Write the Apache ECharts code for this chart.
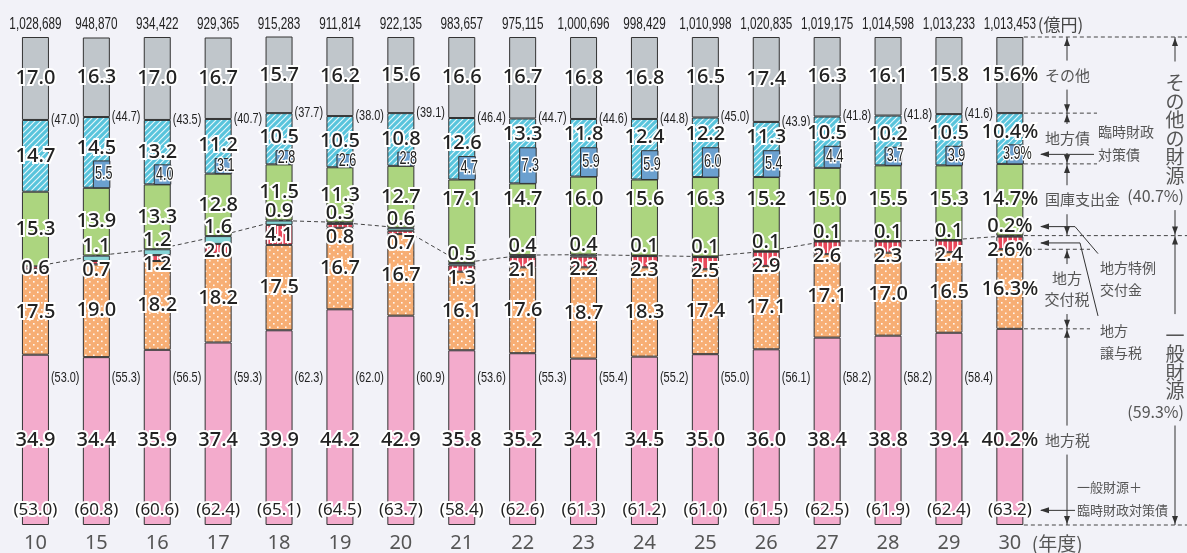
<!DOCTYPE html>
<html lang="ja">
<head>
<meta charset="utf-8">
<title>地方歳入の構成比の推移</title>
<script src="https://cdn.jsdelivr.net/npm/echarts/dist/echarts.min.js"></script>
<style>
html,body{margin:0;padding:0;background:#f2f2f8;}
#chart{width:1187px;height:553px;}
</style>
</head>
<body>
<div id="chart"></div>
<script>
// 年度
const years = ['10','15','16','17','18','19','20','21','22','23','24','25','26','27','28','29','30'];
// 歳入総額（億円）
const totals = ['1,028,689','948,870','934,422','929,365','915,283','911,814','922,135','983,657','975,115','1,000,696','998,429','1,010,998','1,020,835','1,019,175','1,014,598','1,013,233','1,013,453'];
// 構成比（%）
const localTax      = [34.9,34.4,35.9,37.4,39.9,44.2,42.9,35.8,35.2,34.1,34.5,35.0,36.0,38.4,38.8,39.4,40.2];
const allocationTax = [17.5,19.0,18.2,18.2,17.5,16.7,16.7,16.1,17.6,18.7,18.3,17.4,17.1,17.1,17.0,16.5,16.3];
const transferTax   = [0.6,0.7,1.2,2.0,4.1,0.8,0.7,1.3,2.1,2.2,2.3,2.5,2.9,2.6,2.3,2.4,2.6];
const specialGrant  = [null,1.1,1.2,1.6,0.9,0.3,0.6,0.5,0.4,0.4,0.1,0.1,0.1,0.1,0.1,0.1,0.2];
const treasury      = [15.3,13.9,13.3,12.8,11.5,11.3,12.7,17.1,14.7,16.0,15.6,16.3,15.2,15.0,15.5,15.3,14.7];
const localBonds    = [14.7,14.5,13.2,11.2,10.5,10.5,10.8,12.6,13.3,11.8,12.4,12.2,11.3,10.5,10.2,10.5,10.4];
const deficitBonds  = [null,5.5,4.0,3.1,2.8,2.6,2.8,4.7,7.3,5.9,5.9,6.0,5.4,4.4,3.7,3.9,3.9];
const others        = [17.0,16.3,17.0,16.7,15.7,16.2,15.6,16.6,16.7,16.8,16.8,16.5,17.4,16.3,16.1,15.8,15.6];
// 一般財源・その他の財源・一般財源＋臨時財政対策債（%）
const generalShare     = [53.0,55.3,56.5,59.3,62.3,62.0,60.9,53.6,55.3,55.4,55.2,55.0,56.1,58.2,58.2,58.4,59.3];
const otherShare       = [47.0,44.7,43.5,40.7,37.7,38.0,39.1,46.4,44.7,44.6,44.8,45.0,43.9,41.8,41.8,41.6,40.7];
const generalPlusBonds = [53.0,60.8,60.6,62.4,65.1,64.5,63.7,58.4,62.6,61.3,61.2,61.0,61.5,62.5,61.9,62.4,63.2];

const last = years.length - 1;
const F_NUM = '"Noto Sans", "DejaVu Sans", sans-serif';
const F_CONDENSED = '"Liberation Sans", Arial, sans-serif';
const F_JP = '"Noto Sans CJK JP", "Noto Sans", sans-serif';
const INK = '#222';
const EDGE = '#333';

// 塗りパターン
function makePattern(w, h, draw) {
  const c = document.createElement('canvas');
  c.width = w; c.height = h;
  draw(c.getContext('2d'), w, h);
  return { image: c, repeat: 'repeat' };
}
const hatchCyan = makePattern(6, 6, (g, w, h) => {
  g.fillStyle = '#58c4dc'; g.fillRect(0, 0, w, h);
  g.strokeStyle = 'rgba(255,255,255,0.85)'; g.lineWidth = 1.2;
  g.beginPath();
  g.moveTo(-1, h + 1); g.lineTo(w + 1, -1);
  g.moveTo(-1, 1); g.lineTo(1, -1);
  g.moveTo(w - 1, h + 1); g.lineTo(w + 1, h - 1);
  g.stroke();
});
const dotOrange = makePattern(8, 7, (g, w, h) => {
  g.fillStyle = '#f7ae74'; g.fillRect(0, 0, w, h);
  g.fillStyle = 'rgba(255,255,255,0.9)';
  g.fillRect(1, 1, 1.6, 1.6);
  g.fillRect(5, 4.5, 1.6, 1.6);
});
const stripeRed = makePattern(5, 4, (g, w, h) => {
  g.fillStyle = '#e8475a'; g.fillRect(0, 0, w, h);
  g.fillStyle = 'rgba(255,255,255,0.95)'; g.fillRect(2, 0, 1.4, h);
});

const segments = [
  { name: '地方税', data: localTax, color: '#f3abcc' },
  { name: '地方交付税', data: allocationTax, color: dotOrange },
  { name: '地方譲与税', data: transferTax, color: stripeRed },
  { name: '地方特例交付金', data: specialGrant, color: '#86d4d6' },
  { name: '国庫支出金', data: treasury, color: '#acd57f' },
  { name: '地方債', data: localBonds, color: hatchCyan },
  { name: 'その他', data: others, color: '#c0c6cb' }
];

function cumAt(i) {
  const c = [0];
  segments.forEach(s => c.push(c[c.length - 1] + (s.data[i] || 0)));
  return c;
}

const BIG = { fontSize: 20, fontFamily: F_NUM, fontWeight: 500, fill: INK, stroke: '#fff', lineWidth: 4, align: 'center', verticalAlign: 'middle' };
const MID = { fontSize: 17, fontFamily: F_NUM, fontWeight: 'normal', fill: INK, stroke: '#fff', lineWidth: 4, align: 'center', verticalAlign: 'middle' };
const BOX = { fontSize: 18, fontFamily: F_CONDENSED, fontWeight: 'normal', fill: INK, stroke: '#fff', lineWidth: 3, align: 'center', verticalAlign: 'middle' };
const SIDE = { fontSize: 14, fontFamily: F_CONDENSED, fontWeight: 'normal', fill: '#222', align: 'left', verticalAlign: 'middle' };
const TOTAL = { fontSize: 17, fontFamily: F_CONDENSED, fontWeight: 'normal', fill: '#222', align: 'center', verticalAlign: 'middle' };

// テキスト要素（sx < 1 で横方向に詰める）
function text(x, y, s, st, sx) {
  return { type: 'text', x: x, y: y, scaleX: sx || 1,
    style: Object.assign({}, st, { x: 0, y: 0, text: s }) };
}

const idx = years.map((_, i) => [i, 0]);

const barSeries = segments.map(s => ({
  name: s.name,
  type: 'bar',
  stack: 'total',
  barWidth: 27,
  z: 2,
  data: s.data.map(v => (v == null ? '-' : v)),
  itemStyle: { color: s.color, borderColor: EDGE, borderWidth: 1 },
  emphasis: { disabled: true }
}));

// 一般財源の上端を結ぶ破線
const guideSeries = {
  type: 'custom', z: 1, silent: true, data: idx,
  renderItem(params, api) {
    const i = params.dataIndex;
    const g = cumAt(i)[4];
    const p1 = api.coord([i, g]);
    let p2;
    if (i < last) p2 = api.coord([i + 1, cumAt(i + 1)[4]]);
    else p2 = [api.getWidth(), p1[1]];
    return { type: 'line', shape: { x1: p1[0], y1: p1[1], x2: p2[0], y2: p2[1] },
      style: { stroke: '#444', lineWidth: 1, lineDash: [4, 3] } };
  }
};

// 臨時財政対策債（地方債の内数）
const deficitSeries = {
  type: 'custom', z: 3, silent: true, data: idx,
  renderItem(params, api) {
    const i = params.dataIndex;
    const d = deficitBonds[i];
    if (d == null) return null;
    const c = cumAt(i);
    const x = api.coord([i, 0])[0];
    const yTop = api.coord([i, c[5] + d])[1];
    const yBot = api.coord([i, c[5]])[1];
    return { type: 'rect', shape: { x: x - 3, y: yTop, width: 16.5, height: yBot - yTop },
      style: { fill: '#6ba0cf', stroke: EDGE, lineWidth: 1 } };
  }
};

// 数値ラベル
const labelSeries = {
  type: 'custom', z: 5, silent: true, data: idx,
  renderItem(params, api) {
    const i = params.dataIndex;
    const c = cumAt(i);
    const x = api.coord([i, 0])[0];
    const Y = v => api.coord([i, v])[1];
    const pct = i === last ? '%' : '';
    const f = v => v.toFixed(1) + pct;
    const ch = [];
    ch.push(text(x, Y((c[6] + c[7]) / 2), f(others[i]), BIG));
    const d = deficitBonds[i];
    ch.push(text(x, d != null ? Y(c[5] + d) - 13 : Y((c[5] + c[6]) / 2), f(localBonds[i]), BIG));
    ch.push(text(x, i >= 7 ? Y(66.7) : Y((c[4] + c[5]) / 2), f(treasury[i]), BIG));
    let ySp = null;
    if (specialGrant[i] != null) {
      ySp = Y(c[4]) - 9;
      ch.push(text(x, ySp, f(specialGrant[i]), BIG));
    }
    ch.push(text(x, ySp != null ? ySp + 24 : Y((c[2] + c[3]) / 2), f(transferTax[i]), BIG));
    ch.push(text(x, Y((c[1] + c[2]) / 2), f(allocationTax[i]), BIG));
    ch.push(text(x, Y(17.4), f(localTax[i]), BIG));
    ch.push(text(x, Y(3), '(' + generalPlusBonds[i].toFixed(1) + ')', MID));
    if (d != null) ch.push(text(x + 7.5, Y(c[5] + d / 2), f(d), BOX, 0.7));
    if (i < last) {
      ch.push(text(x + 15.5, Y(c[6]), '(' + otherShare[i].toFixed(1) + ')', SIDE, 0.78));
      ch.push(text(x + 15.5, Y(30.1), '(' + generalShare[i].toFixed(1) + ')', SIDE, 0.78));
    }
    ch.push(text(x, Y(100) - 12.5, totals[i], TOTAL, 0.69));
    return { type: 'group', children: ch };
  }
};

const chart = echarts.init(document.getElementById('chart'), null, { renderer: 'canvas' });
chart.setOption({
  backgroundColor: '#f2f2f8',
  animation: false,
  grid: { left: 5, top: 37, width: 1035.3, height: 490 },
  xAxis: {
    type: 'category', data: years,
    axisLine: { show: false }, axisTick: { show: false },
    axisLabel: { fontSize: 20, color: '#555', fontFamily: F_NUM, margin: 8 }
  },
  yAxis: { type: 'value', min: 0, max: 100, show: false },
  series: [guideSeries].concat(barSeries, [deficitSeries, labelSeries])
});

// 右側の注記（最終年度の区分に合わせて配置）
function buildNotes() {
  const P = v => chart.convertToPixel({ gridIndex: 0 }, [last, v]);
  const Yv = v => P(v)[1];
  const c = cumAt(last);
  const cx = P(0)[0];
  const barR = cx + 14;
  const W = chart.getWidth();
  const els = [];
  const dash = (x1, x2, y) => els.push({ type: 'line', silent: true, shape: { x1: x1, y1: y, x2: x2, y2: y },
    style: { stroke: '#444', lineWidth: 1, lineDash: [4, 3] } });
  const seg = (x1, y1, x2, y2) => els.push({ type: 'line', silent: true, shape: { x1: x1, y1: y1, x2: x2, y2: y2 },
    style: { stroke: '#333', lineWidth: 1 } });
  const head = (x, y, dir) => {
    let pts;
    if (dir === 'up') pts = [[x, y], [x - 3, y + 8], [x + 3, y + 8]];
    else if (dir === 'down') pts = [[x, y], [x - 3, y - 8], [x + 3, y - 8]];
    else pts = [[x, y], [x + 9, y - 3], [x + 9, y + 3]];
    els.push({ type: 'polygon', silent: true, shape: { points: pts }, style: { fill: '#333' } });
  };
  const note = (x, y, s, align, size, lh) => els.push({ type: 'text', silent: true, x: x, y: y,
    style: { text: s, fill: '#555', fontSize: size || 15, fontFamily: F_JP, lineHeight: lh || 21,
      textAlign: align || 'center', textVerticalAlign: 'middle' } });

  const yTop = Yv(100), yOther = Yv(c[6]), yBond = Yv(c[5]), yGen = Yv(c[4]);
  const yTr = Yv(c[2]), yAl = Yv(c[1]), yBot = Yv(0);

  // 区分境界の破線
  dash(barR, W, yTop);
  dash(barR, 1097, yOther);
  dash(barR, 1097, yBond);
  dash(barR, 1090, yTr);
  dash(barR, 1090, yAl);
  dash(barR, W, yBot);

  // 中央列：各区分の範囲矢印
  const ax = 1067;
  const span = (a, b, ty, lines, s) => {
    const hh = lines * 21 / 2;
    seg(ax, a, ax, ty - hh - 4); head(ax, a + 1, 'up');
    seg(ax, ty + hh + 4, ax, b); head(ax, b - 1, 'down');
    if (lines > 1) note(ax, ty, s, 'center');
    else note(1045, ty, s, 'left');
  };
  span(yTop, yOther, (yTop + yOther) / 2, 1, 'その他');
  span(yOther, yBond, (yOther + yBond) / 2, 1, '地方債');
  span(yBond, yGen, (yBond + yGen) / 2, 1, '国庫支出金');
  span(yTr, yAl, (yTr + yAl) / 2, 2, '地方\n交付税');
  span(yAl, yBot, Yv(17.4), 1, '地方税');

  // 臨時財政対策債
  const yBox = Yv(c[5] + deficitBonds[last] / 2);
  seg(1094, yBox, 1041, yBox); head(1040, yBox, 'left');
  note(1098, yBox - 23, '臨時財政', 'left', 14);
  note(1098, yBox, '対策債', 'left', 14);

  // 地方特例交付金
  const ySp = yGen - 9;
  seg(1041, ySp, 1075, ySp); seg(1075, ySp, 1098, ySp + 27); head(1040, ySp, 'left');
  note(1100, ySp + 41, '地方特例', 'left', 14);
  note(1100, ySp + 63, '交付金', 'left', 14);

  // 地方譲与税
  const yJ = Yv((c[2] + c[3]) / 2);
  seg(1041, yJ, 1080, yJ); seg(1080, yJ, 1098, yJ + 73); head(1040, yJ, 'left');
  note(1100, yJ + 88, '地方', 'left', 14);
  note(1100, yJ + 110, '譲与税', 'left', 14);

  // 一般財源＋臨時財政対策債
  const yG = Yv(3);
  seg(1075, yG, 1041, yG); head(1040, yG, 'left');
  note(1077, yG - 23, '一般財源＋', 'left', 13);
  note(1077, yG, '臨時財政対策債', 'left', 13);

  // 右端列：その他の財源・一般財源
  const rx = 1175;
  const vblock = (a, b, chars, pctText, off) => {
    const pitch = 18.6;
    const h = chars.length * pitch + 22;
    const top = (a + b) / 2 - h / 2 + off;
    chars.forEach((chr, k) => note(rx, top + pitch / 2 + k * pitch, chr, 'center', 19));
    const pY = top + chars.length * pitch + 11;
    note(1184, pY, pctText, 'right', 16);
    seg(rx, a, rx, top - 12); head(rx, a + 1, 'up');
    seg(rx, pY + 14, rx, b); head(rx, b - 1, 'down');
  };
  vblock(yTop, yGen, ['そ', 'の', '他', 'の', '財', '源'], '(' + otherShare[last].toFixed(1) + '%)', 4);
  vblock(yGen, yBot, ['一', '般', '財', '源'], '(' + generalShare[last].toFixed(1) + '%)', -6);

  // 単位
  els.push({ type: 'text', silent: true, x: cx + 28, y: yTop - 12.5,
    style: { text: '(億円)', fill: '#444', fontSize: 17, fontFamily: F_JP, textAlign: 'left', textVerticalAlign: 'middle' } });
  els.push({ type: 'text', silent: true, x: cx + 22, y: yBot + 19,
    style: { text: '(年度)', fill: '#555', fontSize: 19, fontFamily: F_JP, textAlign: 'left', textVerticalAlign: 'middle' } });

  chart.setOption({ graphic: { elements: els } });
}
buildNotes();
</script>
</body>
</html>
